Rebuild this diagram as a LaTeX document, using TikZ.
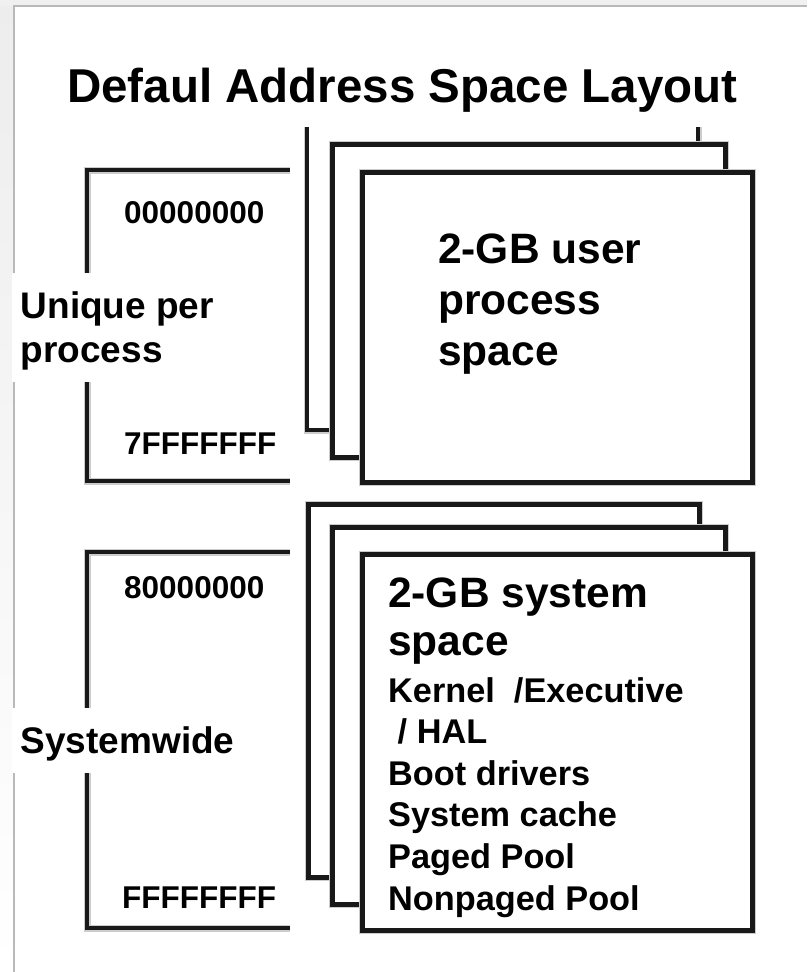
\documentclass[tikz,border=0pt]{standalone}
\usepackage{fontspec}
\setmainfont{Liberation Sans}
\begin{document}
\begin{tikzpicture}[x=1pt,y=-1pt,
  txt/.style={inner sep=0pt, anchor=base west},
  ttl/.style={txt, font=\bfseries\fontsize{47.5}{57}\selectfont},
  addr/.style={txt, font=\bfseries\fontsize{31.5}{38}\selectfont},
  big/.style={txt, font=\bfseries\fontsize{42.5}{50}\selectfont},
  small/.style={txt, font=\bfseries\fontsize{34.3}{41}\selectfont},
  side/.style={txt, font=\bfseries\fontsize{37}{44}\selectfont},
  halo/.style={preaction={draw=gray!40, line width=7pt}},
  brk/.style={draw=black!90, line width=4.5pt, line join=miter, halo},
  stk/.style={draw=black!90, fill=white, line width=4.5pt, line join=miter, halo},
  pg/.style={stk, rectangle, inner sep=0pt, anchor=north west},
  frame/.style={draw=gray!55, line width=1.5pt}]
\useasboundingbox (0,0) rectangle (807,972);
% background and frame
\fill[gray!12] (0,0) rectangle (807,6);
\shade[top color=gray!14, bottom color=white] (0,6) rectangle (14,972);
\fill[white] (14,6) rectangle (807,972);
\draw[frame] (14,972) -- (14,6) -- (807,6);
% title
\node[ttl] (title) at (67,102) {Defaul Address Space Layout};
% left brackets
\draw[brk] (290,170) -- (87,170) -- (87,481) -- (290,481);
\draw[brk] (290,552) -- (87,552) -- (87,928) -- (290,928);
% side labels on white backgrounds that interrupt the lines
\fill[white] (12,273) rectangle (215,382);
\fill[white] (12,708) rectangle (237,773);
\node[side] (uniq1) at (20.5,318) {Unique per};
\node[side] (uniq2) at (20.5,362) {process};
\node[side] (sysw) at (20.5,753) {Systemwide};
% addresses
\node[addr] (a0) at (124,223) {00000000};
\node[addr] (a7) at (124,454) {7FFFFFFF};
\node[addr] (a8) at (124,598) {80000000};
\node[addr] (af) at (122,908) {FFFFFFFF};
% upper stack
\draw[stk] (307,127) -- (307,430) -- (698,430) -- (698,127);
\node[pg, minimum width=393pt, minimum height=313pt] (umid) at (330,142) {};
\node[pg, minimum width=390pt, minimum height=310pt] (ufront) at (360,170) {};
\node[big] (u1) at (438,263) {2-GB user};
\node[big] (u2) at (438,314) {process};
\node[big] (u3) at (438,365) {space};
% lower stack
\node[pg, minimum width=391pt, minimum height=373pt] (lback) at (306,502) {};
\node[pg, minimum width=393pt, minimum height=377pt] (lmid) at (330,525) {};
\node[pg, minimum width=390pt, minimum height=376pt] (lfront) at (360,552) {};
\node[big] (s1) at (388,607) {2-GB system};
\node[big] (s2) at (388,655) {space};
\node[small] (s3) at (388,702) {Kernel\ \ /Executive};
\node[small] (s4) at (388,743.6) {\ / HAL};
\node[small] (s5) at (388,785.2) {Boot drivers};
\node[small] (s6) at (388,826.8) {System cache};
\node[small] (s7) at (388,868.4) {Paged Pool};
\node[small] (s8) at (388,910) {Nonpaged Pool};
\end{tikzpicture}
\end{document}
